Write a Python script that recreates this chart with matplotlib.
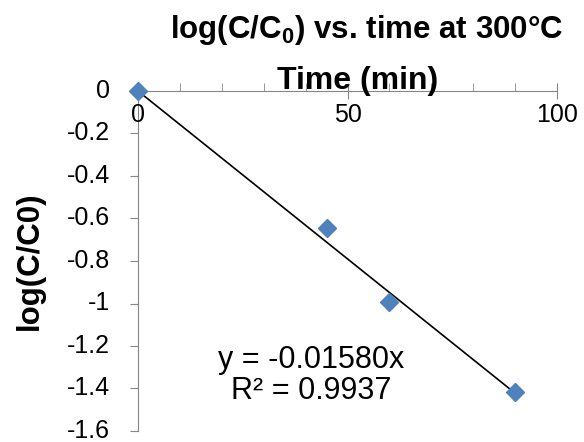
import matplotlib.pyplot as plt
import numpy as np

plt.rcParams['font.family'] = ['Liberation Sans', 'DejaVu Sans']
plt.rcParams['mathtext.fontset'] = 'custom'
plt.rcParams['mathtext.rm'] = 'Liberation Sans'
plt.rcParams['mathtext.bf'] = 'Liberation Sans:bold'

time_min = [0, 45, 60, 90]
log_ratio = [0.0, -0.645, -0.995, -1.418]
slope = -0.01580
r2 = 0.9937
x_ticks = [0, 50, 100]
y_ticks = [0, -0.2, -0.4, -0.6, -0.8, -1, -1.2, -1.4, -1.6]
y_ticklabels = ['0', '-0.2', '-0.4', '-0.6', '-0.8', '-1', '-1.2', '-1.4', '-1.6']

fig = plt.figure(figsize=(5.84, 4.42), dpi=100)
ax = fig.add_axes([138 / 584, 1 - 431 / 442, 419 / 584, 340 / 442])

axis_col = '#868686'

# trendline through origin
xf = np.array([0, max(time_min)])
ax.plot(xf, slope * xf, color='black', lw=1.2, zorder=2)
ax.plot(time_min, log_ratio, linestyle='none', marker='D', ms=9,
        color='#4F81BD', mec='#4F81BD', zorder=3, clip_on=False)

ax.set_xlim(0, 100)
ax.set_ylim(-1.6, 0)

for s in ['top', 'right']:
    ax.spines[s].set_visible(False)
ax.spines['bottom'].set_position(('data', 0))
ax.spines['bottom'].set_color(axis_col)
ax.spines['left'].set_color(axis_col)
ax.spines['bottom'].set_zorder(1)
ax.spines['left'].set_zorder(1)

ax.set_xticks(x_ticks)
ax.set_xticks(np.arange(0, 101, 10), minor=True)
ax.tick_params(axis='x', which='major', direction='inout', length=12,
               color=axis_col, labelsize=18, pad=3)
ax.tick_params(axis='x', which='minor', direction='in', length=6,
               color=axis_col)
ax.set_yticks(y_ticks)
ax.set_yticklabels(y_ticklabels, va='center')
ax.tick_params(axis='y', direction='out', length=6, color=axis_col,
               labelsize=18, pad=14)

ax.set_xlabel('Time (min)', fontsize=23, fontweight='bold', va='bottom')
ax.xaxis.set_label_coords(0.523, 0.985)
ax.set_ylabel('log(C/C0)', fontsize=22.5, fontweight='bold')
ax.yaxis.set_label_coords(-0.222, 0.5)

fig.text(367 / 584, 1 - 30 / 442, r'log(C/C$_\mathbf{0}$) vs. time at 300°C',
         fontsize=22.5, fontweight='bold', ha='center', va='center')

ax.text(0.413, 0.162, 'y = -0.01580x\nR² = 0.9937', transform=ax.transAxes,
        fontsize=22, ha='center', va='center', linespacing=1.05)

fig.savefig('out.png', dpi=100)
